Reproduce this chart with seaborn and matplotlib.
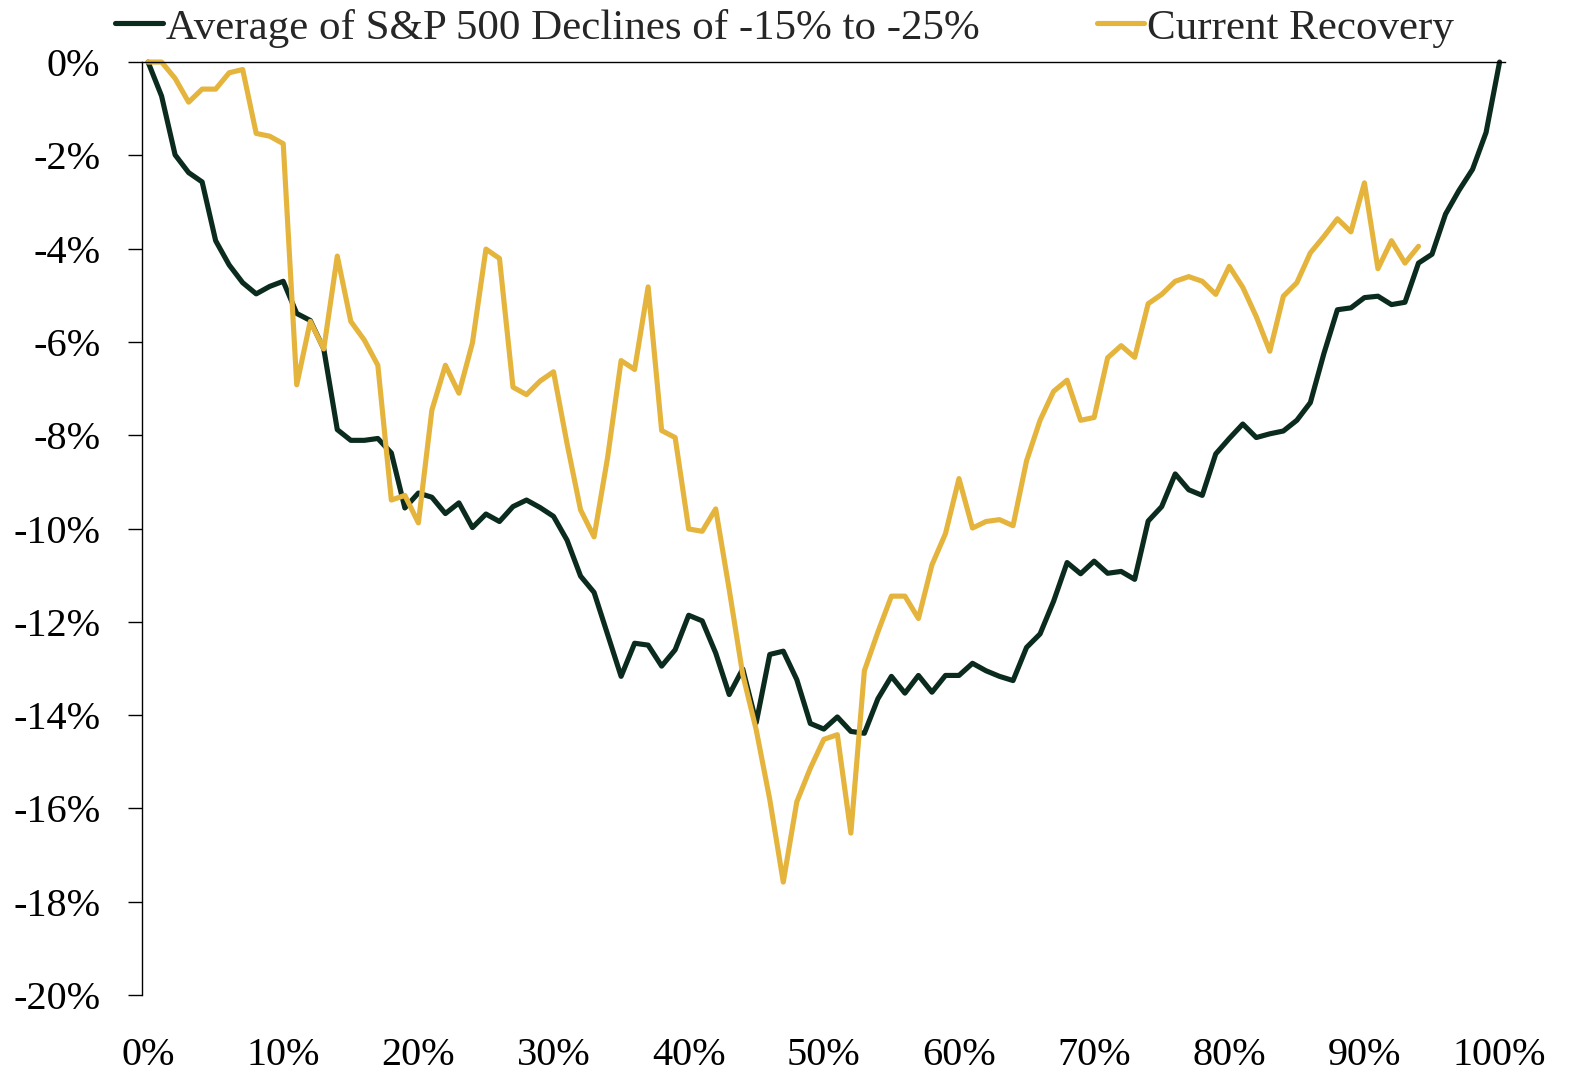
import pandas as pd
import seaborn as sns
import numpy as np
import matplotlib.pyplot as plt

# share of the recovery period elapsed (%)
pct_elapsed = list(range(0, 101))

# average path of S&P 500 declines of -15% to -25% (%)
avg_decline = [0, -0.73, -1.99, -2.37, -2.57, -3.83, -4.35, -4.73, -4.97, -4.81,
               -4.70, -5.39, -5.54, -6.15, -7.88, -8.11, -8.11, -8.07, -8.38, -9.56,
               -9.24, -9.33, -9.68, -9.45, -9.98, -9.69, -9.85, -9.53, -9.39, -9.55,
               -9.74, -10.25, -11.02, -11.37, -12.27, -13.17, -12.46, -12.50, -12.95, -12.60,
               -11.86, -11.98, -12.67, -13.56, -13.01, -14.16, -12.70, -12.63, -13.24, -14.18,
               -14.30, -14.04, -14.35, -14.39, -13.65, -13.17, -13.53, -13.15, -13.51, -13.15,
               -13.15, -12.89, -13.05, -13.17, -13.26, -12.55, -12.26, -11.56, -10.73, -10.97,
               -10.70, -10.96, -10.92, -11.09, -9.84, -9.53, -8.83, -9.17, -9.29, -8.40,
               -8.07, -7.76, -8.05, -7.97, -7.91, -7.68, -7.30, -6.25, -5.31, -5.27,
               -5.05, -5.02, -5.20, -5.15, -4.31, -4.12, -3.26, -2.75, -2.30, -1.51,
               0]

# current recovery (%)
current = [0, 0, -0.35, -0.86, -0.58, -0.58, -0.23, -0.16, -1.53, -1.59,
           -1.75, -6.92, -5.56, -6.15, -4.16, -5.56, -5.96, -6.50, -9.39, -9.29,
           -9.88, -7.46, -6.50, -7.10, -6.02, -4.01, -4.21, -6.97, -7.13, -6.84,
           -6.64, -8.18, -9.60, -10.18, -8.48, -6.40, -6.59, -4.82, -7.90, -8.05,
           -10.01, -10.06, -9.58, -11.31, -13.13, -14.32, -15.81, -17.58, -15.86, -15.14,
           -14.52, -14.42, -16.53, -13.05, -12.22, -11.45, -11.45, -11.93, -10.78, -10.11,
           -8.93, -9.99, -9.85, -9.81, -9.94, -8.55, -7.68, -7.06, -6.82, -7.68,
           -7.62, -6.34, -6.08, -6.33, -5.18, -4.98, -4.70, -4.60, -4.70, -4.98,
           -4.38, -4.83, -5.46, -6.20, -5.02, -4.73, -4.09, -3.74, -3.36, -3.64,
           -2.59, -4.43, -3.83, -4.31, -3.95]

x_ticks = [0, 10, 20, 30, 40, 50, 60, 70, 80, 90, 100]
y_ticks = [0, -2, -4, -6, -8, -10, -12, -14, -16, -18, -20]

dark = "#0a2b1d"
gold = "#e4b43c"

sns.set_style("white")
plt.rcParams['font.family'] = ['Liberation Serif', 'DejaVu Serif']

fig, ax = plt.subplots(figsize=(15.69, 10.81), dpi=100)
fig.subplots_adjust(left=0.0905, right=0.9592, top=0.9426, bottom=0.0796)

sns.lineplot(x=pct_elapsed, y=avg_decline, color=dark, linewidth=3.7, ax=ax,
             label="Average of S&P 500 Declines of -15% to -25%", clip_on=False)
sns.lineplot(x=pct_elapsed[:len(current)], y=current, color=gold, linewidth=3.7, ax=ax,
             label="Current Recovery", clip_on=False)

ax.set_xlim(-0.45, 100.4)
ax.set_ylim(-20, 0)

#axes
ax.spines['right'].set_visible(False)
ax.spines['bottom'].set_visible(False)
for s in ['left', 'top']:
    ax.spines[s].set_color('black')
    ax.spines[s].set_linewidth(1.0)

ax.set_xticks(x_ticks)
ax.set_xticklabels([f"{v}%" for v in x_ticks])
ax.set_yticks(y_ticks)
ax.set_yticklabels([f"{v}%" for v in y_ticks])
ax.tick_params(axis='x', length=0, pad=30, labelsize=29, colors='black')
ax.tick_params(axis='y', left=True, length=10, width=1.0, pad=20, labelsize=29,
               colors='black', direction='out')
ax.set_xlabel("")
ax.set_ylabel("")

#legend
ax.legend(loc='center left', bbox_to_anchor=(115 / 1569, 1 - 28 / 1081),
          bbox_transform=fig.transFigure, ncol=2, frameon=False, fontsize=31,
          handlelength=1.11, handletextpad=0.07, columnspacing=2.72,
          borderpad=0, borderaxespad=0)

plt.savefig("out.png", dpi=100)
